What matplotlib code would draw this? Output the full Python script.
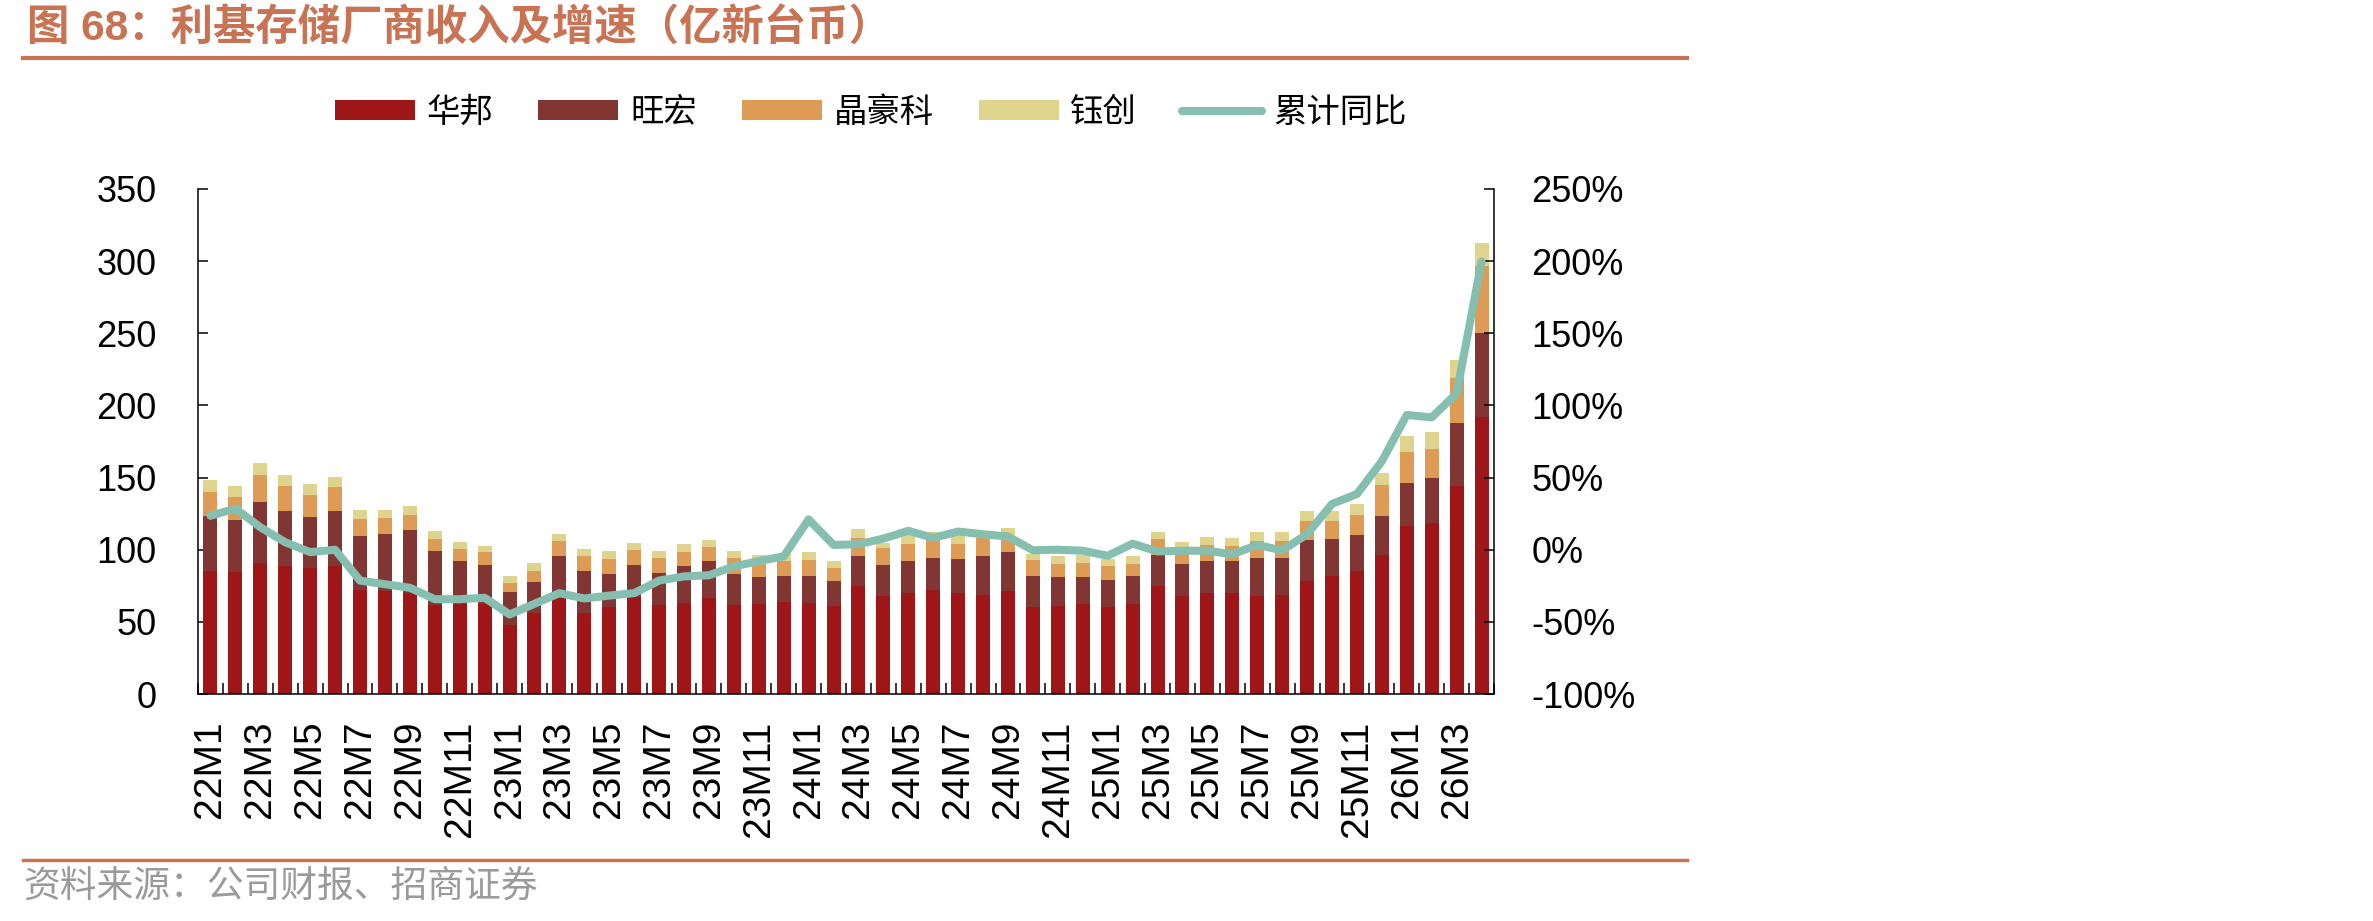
import numpy as np
import matplotlib
matplotlib.use("Agg")
import matplotlib.pyplot as plt
from matplotlib.lines import Line2D

plt.rcParams['font.family'] = ['Liberation Sans', 'Noto Sans CJK SC', 'DejaVu Sans']

# 月份标签 22M1 ~ 26M4
months = ["22M1", "22M2", "22M3", "22M4", "22M5", "22M6", "22M7", "22M8", "22M9", "22M10", "22M11", "22M12",
          "23M1", "23M2", "23M3", "23M4", "23M5", "23M6", "23M7", "23M8", "23M9", "23M10", "23M11", "23M12",
          "24M1", "24M2", "24M3", "24M4", "24M5", "24M6", "24M7", "24M8", "24M9", "24M10", "24M11", "24M12",
          "25M1", "25M2", "25M3", "25M4", "25M5", "25M6", "25M7", "25M8", "25M9", "25M10", "25M11", "25M12",
          "26M1", "26M2", "26M3", "26M4"]

# 各厂商月收入（亿新台币）
winbond = [85.5, 84.7, 90.9, 88.4, 87.0, 88.4, 72.4, 71.6, 69.9, 61.8, 62.5, 62.5,
           47.7, 56.3, 66.2, 55.8, 60.0, 67.4, 61.8, 63.0, 66.7, 61.8, 62.5, 63.7,
           63.2, 61.3, 74.6, 68.2, 70.2, 72.1, 69.7, 68.7, 71.6, 60.0, 61.3, 62.7,
           60.0, 62.7, 74.6, 67.7, 70.2, 70.2, 67.7, 68.7, 78.1, 81.5, 85.5, 96.6,
           116.6, 118.6, 144.3, 191.7]
macronix = [38.0, 35.9, 42.5, 38.6, 36.0, 38.6, 36.8, 39.1, 44.0, 37.0, 29.4, 27.2,
            22.7, 21.0, 29.6, 29.7, 23.5, 22.3, 22.2, 25.9, 25.2, 21.7, 18.5, 18.3,
            18.8, 17.3, 20.8, 21.5, 21.7, 22.5, 24.2, 27.1, 26.7, 21.5, 19.7, 18.3,
            19.1, 18.8, 21.7, 22.7, 22.2, 22.2, 26.9, 25.9, 28.6, 26.2, 24.4, 26.9,
            29.9, 30.9, 43.7, 58.3]
esmt = [16.8, 16.0, 18.3, 17.3, 14.8, 16.8, 12.3, 11.3, 10.1, 8.9, 8.9, 8.4,
        6.7, 8.2, 10.4, 10.3, 10.4, 10.1, 10.6, 9.7, 10.1, 11.1, 10.9, 10.4,
        10.9, 8.9, 12.8, 11.8, 12.3, 13.4, 10.3, 12.0, 9.9, 11.4, 9.4, 9.9,
        9.8, 8.9, 11.4, 11.4, 10.9, 9.9, 11.1, 11.6, 13.4, 12.4, 13.9, 21.3,
        21.5, 20.5, 30.9, 46.9]
etron = [7.9, 7.4, 8.4, 7.4, 7.7, 6.6, 6.0, 5.5, 6.4, 5.4, 4.7, 4.7,
         4.9, 5.4, 5.0, 5.0, 5.4, 4.9, 4.7, 5.4, 4.7, 4.7, 4.4, 4.4,
         5.4, 4.9, 6.2, 3.5, 6.0, 4.4, 6.0, 4.5, 6.7, 4.2, 5.4, 5.4,
         4.5, 5.4, 4.7, 3.4, 5.6, 5.9, 6.5, 6.0, 6.6, 6.6, 7.9, 8.4,
         10.6, 11.3, 12.8, 15.8]
# 累计同比（%）
yoy = [23.5, 28.5, 15.6, 5.2, -1.7, 0.0, -21.4, -23.9, -26.4, -34.3, -34.3, -33.3,
       -44.9, -37.5, -30.1, -33.8, -31.8, -30.1, -21.4, -18.5, -17.7, -11.6, -7.9, -4.6,
       21.0, 3.3, 3.8, 7.7, 13.1, 8.2, 12.6, 10.7, 9.2, -0.4, 0.0, -0.7,
       -4.2, 4.2, -1.2, -0.7, -0.7, -3.2, 3.3, -0.4, 10.7, 31.7, 38.6, 61.3,
       93.4, 91.7, 108.3, 199.7]

c_wb, c_mx, c_es, c_et = "#9E1618", "#823634", "#DE9B55", "#DED48E"
c_line = "#86BFB0"
c_title = "#C87454"

W, H = 2373, 921
fig = plt.figure(figsize=(W / 100, H / 100), dpi=100)
ax = fig.add_axes([198 / W, 1 - 694 / H, (1494 - 198) / W, (694 - 189) / H])

x = np.arange(len(months))
wb = np.array(winbond)
mx = np.array(macronix)
es = np.array(esmt)
et = np.array(etron)
bw = 0.56
ax.bar(x, wb, bw, color=c_wb, label="华邦", zorder=2)
ax.bar(x, mx, bw, bottom=wb, color=c_mx, label="旺宏", zorder=2)
ax.bar(x, es, bw, bottom=wb + mx, color=c_es, label="晶豪科", zorder=2)
ax.bar(x, et, bw, bottom=wb + mx + es, color=c_et, label="钰创", zorder=2)

ax.set_xlim(-0.5, len(months) - 0.5)
ax.set_ylim(0, 350)
ax.set_yticks(np.arange(0, 351, 50))
ax.set_xticks(x[::2])
ax.set_xticklabels(months[::2], rotation=90, fontsize=28)
ax.set_xticks(np.arange(-0.5, len(months), 1), minor=True)
ax.tick_params(axis="x", which="major", length=0, pad=19)
ax.tick_params(axis="x", which="minor", length=8, width=1.1, direction="in")
ax.tick_params(axis="y", length=7, width=1.1, direction="in", labelsize=26, pad=30)
for s in ["top", "right"]:
    ax.spines[s].set_visible(False)
for s in ["left", "bottom"]:
    ax.spines[s].set_linewidth(1.1)

ax2 = ax.twinx()
ax2.plot(x, yoy, color=c_line, lw=5.8, label="累计同比", solid_joinstyle="round", solid_capstyle="round")
ax2.set_ylim(-100, 250)
ax2.set_yticks(np.arange(-100, 251, 50))
ax2.set_yticklabels([f"{v}%" for v in range(-100, 251, 50)])
ax2.tick_params(axis="y", length=7, width=1.1, direction="in", labelsize=26, pad=27)
for s in ["top", "left", "bottom"]:
    ax2.spines[s].set_visible(False)
ax2.spines["right"].set_linewidth(1.1)

h1, l1 = ax.get_legend_handles_labels()
h2, l2 = ax2.get_legend_handles_labels()
fig.legend(h1 + h2, l1 + l2, loc="center", bbox_to_anchor=(871 / W, 1 - 113 / H),
           ncol=5, frameon=False, fontsize=24, handlelength=2.4, handleheight=0.55,
           handletextpad=0.35, columnspacing=1.35)

# 标题与分隔线
fig.text(27 / W, 1 - 28 / H, "图 68：利基存储厂商收入及增速（亿新台币）", fontsize=30.5,
         fontweight="bold", color=c_title, va="center", ha="left")
fig.add_artist(Line2D([23 / W, 1687 / W], [1 - 58 / H] * 2, lw=3, color=c_title))
fig.add_artist(Line2D([23 / W, 1687 / W], [1 - 860 / H] * 2, lw=2.5, color=c_title))
fig.text(23 / W, 1 - 887 / H, "资料来源：公司财报、招商证券", fontsize=26.5,
         color="#9A9A9A", va="center", ha="left")

fig.savefig("out.png", dpi=100)
